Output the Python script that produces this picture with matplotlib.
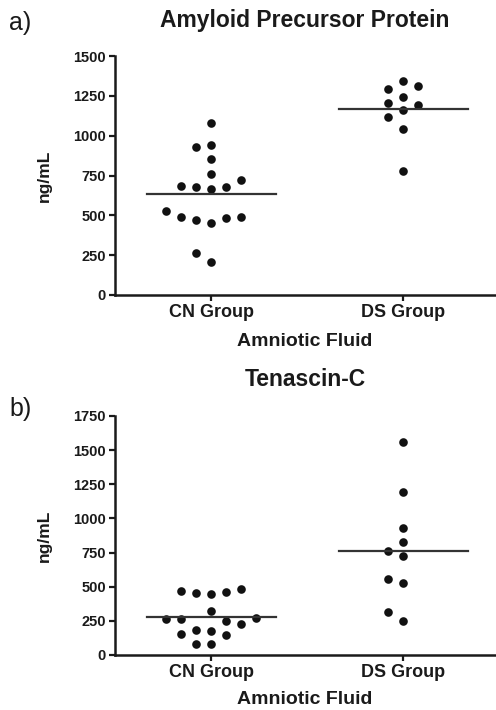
import numpy as np
import matplotlib
matplotlib.use('Agg')
import matplotlib.pyplot as plt

plt.rcParams['font.family'] = ['Liberation Sans', 'DejaVu Sans']

# ______________________________________________________________________
# data (ng/mL)
groups = ['CN Group', 'DS Group']

app_cn = [1081, 940, 931, 852, 760, 722, 684, 680, 676, 667,
          525, 492, 492, 483, 471, 450, 266, 207]
app_ds = [1341, 1312, 1291, 1245, 1207, 1195, 1161, 1119, 1040, 780]

tnc_cn = [482, 467, 462, 457, 447, 325, 271, 262, 262, 247,
          227, 183, 178, 154, 144, 81, 81]
tnc_ds = [1558, 1191, 932, 824, 765, 726, 555, 526, 315, 252]

app_ticks = [0, 250, 500, 750, 1000, 1250, 1500]
tnc_ticks = [0, 250, 500, 750, 1000, 1250, 1500, 1750]

W, H = 496, 710
dotcolor = '#111111'
linecolor = '#333333'
txtcolor = '#1a1a1a'


# ______________________________________________________________________
def swarm(ax, xc, values, step_px=15.0, mindist_px=13.0):
    # greedy beeswarm in pixel space, like the Prism dot layout
    vals = np.sort(np.asarray(values, dtype=float))
    ypix = ax.transData.transform(np.column_stack([np.full(vals.size, xc), vals]))[:, 1]
    x0 = ax.transData.transform((0, 0))[0]
    x1 = ax.transData.transform((1, 0))[0]
    px_per_unit = x1 - x0
    placed = []  # (slot, ypix)
    slots = []
    order = [0, -1, 1, -2, 2, -3, 3, -4, 4]
    for yp in ypix:
        for s in order:
            if all(not (ps == s and abs(py - yp) < mindist_px) for ps, py in placed):
                placed.append((s, yp))
                slots.append(s)
                break
    xs = xc + np.array(slots) * step_px / px_per_unit
    return xs, vals


def panel(ax, cn, ds, ticks, ymax):
    ax.set_xlim(0.5, 2.5)
    ax.set_ylim(0, ymax)
    for i, vals in enumerate([cn, ds]):
        xs, ys = swarm(ax, i + 1, vals)
        ax.plot(xs, ys, 'o', color=dotcolor, markersize=6.2, markeredgewidth=0, clip_on=False)
        m = np.mean(vals)  # line is the group mean
        ax.plot([i + 1 - 0.335, i + 1 + 0.335], [m, m], color=linecolor, lw=1.6)

    ax.set_xticks([1, 2])
    ax.set_xticklabels(groups, fontsize=13, fontweight='bold', color=txtcolor)
    ax.set_yticks(ticks)
    ax.set_yticklabels([str(t) for t in ticks], fontsize=10.5, fontweight='bold', color=txtcolor)
    for side in ['top', 'right']:
        ax.spines[side].set_visible(False)
    for side in ['left', 'bottom']:
        ax.spines[side].set_linewidth(1.8)
        ax.spines[side].set_color(txtcolor)
    ax.tick_params(direction='out', length=4, width=1.6, color=txtcolor, pad=2.5)


# ______________________________________________________________________
fig = plt.figure(figsize=(W / 100, H / 100), dpi=100)

left = 115 / W
width = (499.5 - 115) / W
ax_top = fig.add_axes([left, 1 - 295 / H, width, (295 - 56) / H])
ax_bot = fig.add_axes([left, 1 - 655 / H, width, (655 - 416) / H])

panel(ax_top, app_cn, app_ds, app_ticks, 1500)
panel(ax_bot, tnc_cn, tnc_ds, tnc_ticks, 1750)

xmid = 305 / W
# titles, panel letters, axis labels
fig.text(xmid, 1 - 20 / H, 'Amyloid Precursor Protein', ha='center', va='center',
         fontsize=16.5, fontweight='bold', color=txtcolor)
fig.text(xmid, 1 - 380 / H, 'Tenascin-C', ha='center', va='center',
         fontsize=16.5, fontweight='bold', color=txtcolor)
fig.text(9 / W, 1 - 23 / H, 'a)', ha='left', va='center', fontsize=18, color=txtcolor)
fig.text(9 / W, 1 - 409 / H, 'b)', ha='left', va='center', fontsize=18, color=txtcolor)

for yc in [341, 700]:
    fig.text(xmid, 1 - yc / H, 'Amniotic Fluid', ha='center', va='center',
             fontsize=14, fontweight='bold', color=txtcolor)
for yc in [175.5, 535.5]:
    fig.text(44 / W, 1 - yc / H, 'ng/mL', ha='center', va='center', rotation=90,
             fontsize=12.5, fontweight='bold', color=txtcolor)

plt.savefig('out.png', dpi=100)
plt.close()
